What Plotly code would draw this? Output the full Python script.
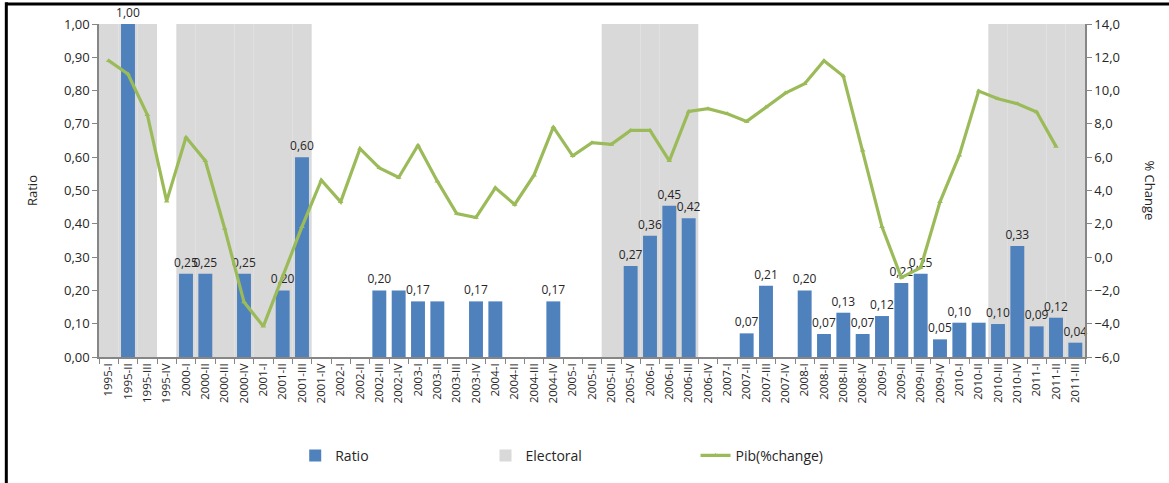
import plotly.graph_objects as go

categories = ["1995-I", "1995-II", "1995-III", "1995-IV",
              "2000-I", "2000-II", "2000-III", "2000-IV",
              "2001-I", "2001-II", "2001-III", "2001-IV",
              "2002-I", "2002-II", "2002-III", "2002-IV",
              "2003-I", "2003-II", "2003-III", "2003-IV",
              "2004-I", "2004-II", "2004-III", "2004-IV",
              "2005-I", "2005-II", "2005-III", "2005-IV",
              "2006-I", "2006-II", "2006-III", "2006-IV",
              "2007-I", "2007-II", "2007-III", "2007-IV",
              "2008-I", "2008-II", "2008-III", "2008-IV",
              "2009-I", "2009-II", "2009-III", "2009-IV",
              "2010-I", "2010-II", "2010-III", "2010-IV",
              "2011-I", "2011-II", "2011-III"]

ratio = [None, 1.00, None, None,
         0.25, 0.25, None, 0.25,
         None, 0.20, 0.60, None,
         None, None, 0.20, 0.20,
         0.167, 0.167, None, 0.167,
         0.167, None, None, 0.167,
         None, None, None, 0.273,
         0.364, 0.454, 0.417, None,
         None, 0.071, 0.214, None,
         0.20, 0.069, 0.133, 0.069,
         0.123, 0.222, 0.25, 0.053,
         0.103, 0.103, 0.099, 0.333,
         0.092, 0.118, 0.043]

# data labels shown in the original (some repeated labels were removed there)
ratio_label_shown = [False, True, False, False,
                     True, True, False, True,
                     False, True, True, False,
                     False, False, True, False,
                     True, False, False, True,
                     False, False, False, True,
                     False, False, False, True,
                     True, True, True, False,
                     False, True, True, False,
                     True, True, True, True,
                     True, True, True, True,
                     True, False, True, True,
                     True, True, True]

electoral = [1, 1, 1, None,
             1, 1, 1, 1,
             1, 1, 1, None,
             None, None, None, None,
             None, None, None, None,
             None, None, None, None,
             None, None, 1, 1,
             1, 1, 1, None,
             None, None, None, None,
             None, None, None, None,
             None, None, None, None,
             None, None, 1, 1,
             1, 1, 1]

pib = [11.8, 11.0, 8.55, 3.36,
       7.2, 5.78, 1.72, -2.7,
       -4.16, -1.2, 1.83, 4.62,
       3.32, 6.51, 5.36, 4.78,
       6.72, 4.56, 2.62, 2.38,
       4.16, 3.16, 4.92, 7.81,
       6.08, 6.87, 6.77, 7.61,
       7.61, 5.78, 8.75, 8.91,
       8.61, 8.15, 9.01, 9.85,
       10.41, 11.8, 10.87, 6.42,
       1.82, -1.23, -0.63, 3.32,
       6.12, 9.97, 9.51, 9.21,
       8.71, 6.65, None]

FONT = "Open Sans"

ratio_text = [(f"{v:.2f}".replace(".", ",") if (v is not None and s) else "")
              for v, s in zip(ratio, ratio_label_shown)]

fig = go.Figure()

fig.add_trace(go.Bar(
    x=categories, y=electoral, name="Electoral",
    marker=dict(color="#D9D9D9", line=dict(width=0)),
    width=1.0, legend="legend2", hoverinfo="skip",
))

fig.add_trace(go.Bar(
    x=categories, y=ratio, name="Ratio",
    marker=dict(color="#4F81BD", line=dict(width=0)),
    width=0.72, legend="legend",
    text=ratio_text, texttemplate="%{text}", textposition="outside", constraintext="none",
    textfont=dict(size=12, color="#262626", family=FONT),
    cliponaxis=False,
))

fig.add_trace(go.Scatter(
    x=categories, y=pib, name="Pib(%change)", yaxis="y2",
    mode="lines+markers",
    line=dict(color="#9BBB59", width=3.2),
    marker=dict(symbol="triangle-up", size=5, color="#9BBB59"),
    legend="legend3",
))

leg_common = dict(orientation="h", xanchor="left", y=-0.245, yanchor="top",
                  font=dict(size=14, family=FONT, color="#262626"),
                  itemwidth=30, bgcolor="rgba(0,0,0,0)")

fig.update_layout(
    width=1169, height=483,
    margin=dict(l=99, r=84, t=24, b=125),
    paper_bgcolor="white", plot_bgcolor="white",
    separators=",.",
    barmode="overlay",
    font=dict(family=FONT, size=13, color="#262626"),
    showlegend=True,
    legend=dict(x=0.199, **leg_common),
    legend2=dict(x=0.392, **leg_common),
    legend3=dict(x=0.605, **leg_common),
    xaxis=dict(type="category", range=[-0.5, 50.5], tickangle=-90, automargin=False,
               tickfont=dict(size=11.5), showline=True, linecolor="#868686", linewidth=1.5,
               ticks="outside", tickson="boundaries", ticklen=5, tickcolor="#868686",
               showgrid=False),
    yaxis=dict(range=[0, 1], dtick=0.1, tickformat=".2f", showline=True, automargin=False,
               linecolor="#868686", linewidth=1.5, ticks="outside", ticklen=5,
               tickcolor="#868686", showgrid=False, zeroline=False,
               title=dict(text="Ratio", font=dict(size=13), standoff=23)),
    yaxis2=dict(range=[-6, 14], dtick=2, tickformat=".1f", overlaying="y", side="right",
                automargin=False,
                showline=True, linecolor="#868686", linewidth=1.5, ticks="outside",
                ticklen=5, tickcolor="#868686", showgrid=False, zeroline=False),
)

fig.add_annotation(text="% Change", textangle=90, xref="paper", yref="paper",
                   x=1.066, y=0.5, showarrow=False, xanchor="center",
                   font=dict(size=13, family=FONT, color="#262626"))

# frame lines of the original figure box
fig.add_shape(type="line", xref="paper", yref="paper", x0=-0.094, x1=1.1, y0=1.06, y1=1.06,
              line=dict(color="black", width=3))
fig.add_shape(type="line", xref="paper", yref="paper", x0=-0.094, x1=-0.094, y0=1.065, y1=-0.38,
              line=dict(color="black", width=3))

fig.write_html("out.html", config={"displayModeBar": False},
               post_script="document.body.style.margin='0';")
